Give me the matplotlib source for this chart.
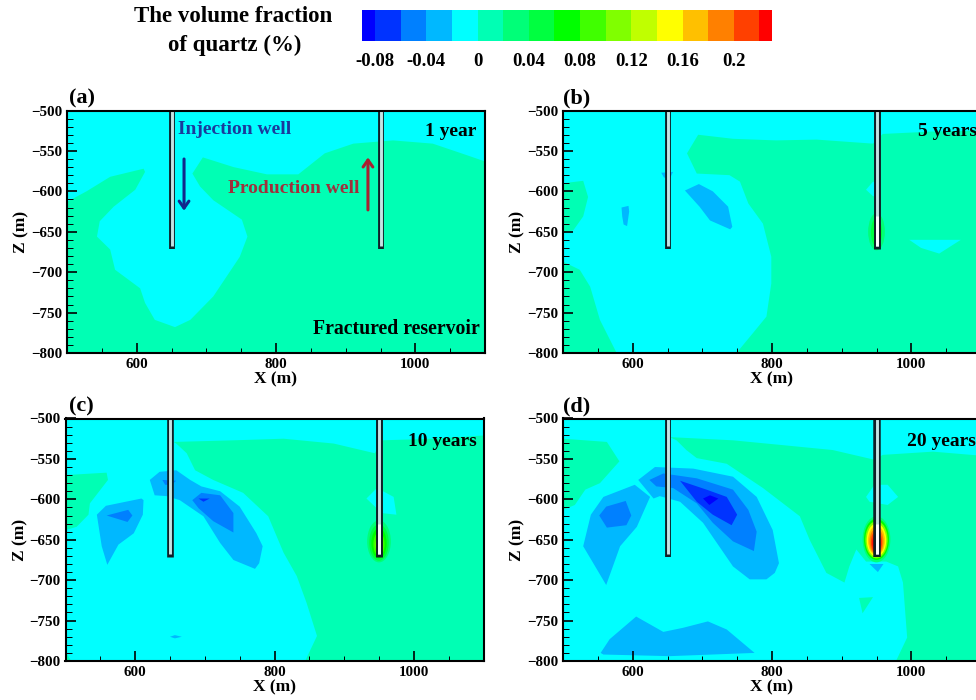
import matplotlib
matplotlib.use("Agg")
import matplotlib.pyplot as plt
import numpy as np
from matplotlib.colors import BoundaryNorm, ListedColormap
from matplotlib.patches import Ellipse, FancyArrowPatch
from matplotlib.ticker import MultipleLocator

plt.rcParams["font.family"] = ["Liberation Serif", "DejaVu Serif"]
plt.rcParams["font.weight"] = "bold"
plt.rcParams["axes.labelweight"] = "bold"

# Colour scale
BOUNDS = [-0.09, -0.08, -0.06, -0.04, -0.02, 0, 0.02, 0.04, 0.06, 0.08, 0.10,
          0.12, 0.14, 0.16, 0.18, 0.20, 0.22, 0.23]
COLORS = ["#0000ff", "#0033ff", "#0080ff", "#00b8ff", "#00ffff", "#00ffb4",
          "#00ff78", "#00ff40", "#00ff00", "#40ff00", "#80ff00", "#c0ff00",
          "#ffff00", "#ffc000", "#ff8000", "#ff4000", "#ff0000"]
CBAR_TICKS = [-0.08, -0.04, 0, 0.04, 0.08, 0.12, 0.16, 0.2]
CBAR_LABELS = ["-0.08", "-0.04", "0", "0.04", "0.08", "0.12", "0.16", "0.2"]

# Background of each panel, then contour bands as (value, outline) in X, Z metres
BACKGROUND = -0.01

BANDS_A = [
    (0.01, [(500, -613), (528, -600), (562, -582), (610, -572), (612, -576), (598, -598),
            (567, -619), (547, -637), (543, -656), (562, -672), (569, -697), (605, -720),
            (612, -738), (626, -759), (655, -768), (677, -759), (710, -730), (748, -681),
            (759, -656), (751, -635), (710, -611), (691, -594), (680, -578), (695, -558),
            (739, -570), (787, -579), (832, -579), (870, -553), (911, -541), (968, -537),
            (1025, -541), (1073, -555), (1100, -563), (1100, -800), (500, -800)]),
]

BANDS_B = [
    (0.01, [(500, -590), (529, -587), (536, -607), (529, -631), (515, -648), (500, -652)]),
    (0.01, [(500, -687), (524, -697), (539, -718), (553, -759), (577, -800), (500, -800)]),
    (0.01, [(694, -530), (744, -535), (806, -537), (864, -536), (945, -541), (959, -529),
            (1031, -526), (1100, -525), (1100, -800), (749, -800), (773, -775), (792, -755),
            (799, -714), (799, -681), (787, -640), (766, -615), (754, -588), (739, -580),
            (692, -578), (678, -553)]),
    (-0.01, [(935, -598), (945, -588), (956, -590), (956, -606), (945, -606)]),
    (-0.01, [(997, -660), (1071, -660), (1040, -677), (1014, -670)]),
    (-0.03, [(675, -599), (695, -591), (715, -600), (737, -619), (743, -644), (740, -647),
             (711, -636), (696, -619)]),
    (-0.03, [(584, -620), (594, -618), (595, -625), (592, -643), (587, -641), (585, -631)]),
    (-0.03, [(641, -577), (658, -576), (654, -583), (645, -583)]),
]

BANDS_C = [
    (0.01, [(500, -570), (559, -567), (561, -576), (535, -605), (533, -619), (516, -634),
            (500, -638)]),
    (0.01, [(500, -788), (508, -800), (500, -800)]),
    (0.01, [(655, -529), (741, -527), (813, -525), (885, -531), (944, -543), (954, -527),
            (1028, -525), (1100, -521), (1100, -800), (844, -800), (861, -769), (846, -728),
            (832, -695), (813, -666), (791, -621), (755, -592), (712, -576), (686, -564),
            (674, -543), (659, -531)]),
    (-0.01, [(932, -599), (947, -586), (971, -597), (975, -619), (954, -617)]),
    (-0.03, [(545, -619), (558, -608), (609, -599), (612, -601), (611, -619), (598, -642),
             (576, -656), (560, -681), (552, -658)]),
    (-0.05, [(559, -620), (590, -613), (596, -620), (589, -628)]),
    (-0.03, [(621, -576), (635, -566), (659, -564), (679, -576), (695, -584), (722, -590),
             (750, -609), (774, -642), (783, -658), (778, -679), (772, -686), (741, -675),
             (722, -654), (698, -621), (664, -601), (645, -596), (628, -595)]),
    (-0.05, [(682, -601), (695, -592), (722, -595), (741, -617), (741, -641), (712, -627),
             (691, -611)]),
    (-0.07, [(691, -599), (707, -599), (698, -603)]),
    (-0.05, [(639, -576), (659, -577), (652, -582), (643, -582)]),
    (-0.03, [(650, -770), (657, -768), (667, -770), (657, -772)]),
]

BANDS_D = [
    (0.01, [(500, -525), (563, -529), (581, -553), (553, -580), (532, -588), (517, -607),
            (500, -613)]),
    (0.01, [(653, -523), (744, -527), (816, -533), (887, -539), (947, -551), (959, -545),
            (1031, -541), (1100, -546), (1100, -800), (978, -800), (994, -771), (988, -703),
            (981, -683), (964, -677), (935, -677), (921, -662), (911, -683), (904, -703),
            (878, -691), (854, -650), (840, -621), (787, -586), (735, -556), (692, -549),
            (677, -539), (663, -527)]),
    (0.01, [(925, -722), (945, -721), (930, -741)]),
    (-0.01, [(935, -597), (947, -582), (966, -582), (981, -597), (966, -607), (940, -603)]),
    (-0.03, [(529, -658), (540, -619), (558, -597), (603, -582), (625, -597), (606, -634),
             (582, -658), (562, -706)]),
    (-0.05, [(552, -620), (562, -609), (590, -602), (598, -620), (591, -632), (563, -635)]),
    (-0.03, [(608, -576), (632, -560), (687, -562), (744, -572), (778, -597), (801, -638),
             (810, -679), (804, -691), (792, -699), (768, -699), (744, -683), (701, -629),
             (668, -603), (639, -596), (630, -599)]),
    (-0.05, [(624, -576), (644, -568), (692, -574), (744, -588), (766, -613), (778, -640),
             (774, -664), (744, -652), (715, -629), (692, -605), (658, -586), (634, -584)]),
    (-0.07, [(668, -577), (706, -588), (735, -597), (750, -619), (742, -632), (715, -619),
             (692, -603)]),
    (-0.085, [(701, -599), (711, -595), (723, -599), (710, -607)]),
    (-0.03, [(940, -680), (960, -680), (952, -690)]),
    (-0.03, [(554, -790), (567, -773), (605, -745), (644, -764), (672, -759), (708, -751),
             (735, -761), (775, -790), (653, -794), (558, -792)]),
]

# Hot spot round the production well: value, half width, top and bottom Z
GLOW_B = [(0.03, 12, -627, -673), (0.05, 8, -633, -668)]
GLOW_C = [(0.03, 17, -626, -678), (0.05, 14, -631, -676), (0.07, 11, -636, -673),
          (0.09, 8, -641, -670), (0.11, 5, -646, -667)]
GLOW_D = [(0.03, 20, -621, -678), (0.07, 18, -624, -675), (0.11, 16, -627, -673),
          (0.15, 14, -630, -671), (0.17, 12, -633, -669), (0.19, 10, -636, -668),
          (0.21, 8, -639, -667), (0.225, 6, -642, -666)]

WELL_X = [650, 950]
WELL_BOTTOM = -671
WELL_LOWER_TOP = -630

TITLES = ["(a)", "(b)", "(c)", "(d)"]
TITLE_X = [0.005, 0.0, 0.009, 0.0]
ALL_BANDS = [BANDS_A, BANDS_B, BANDS_C, BANDS_D]
ALL_GLOWS = [[], GLOW_B, GLOW_C, GLOW_D]
# line widths of the two wells per panel
WELL_LW = [(4.2, 4.2), (4.2, 5.0), (4.8, 5.0), (4.2, 5.4)]
TIME_LABELS = ["1 year", "5 years", "10 years", "20 years"]
TIME_X = [1088, 1094, 1091, 1092]
TIME_Z = [-526, -526, -529, -529]

W, H = 976, 700
cmap = ListedColormap(COLORS)
norm = BoundaryNorm(BOUNDS, cmap.N)

fig = plt.figure(figsize=(W / 100, H / 100), dpi=100)


def px_axes(left, top, right, bottom):
    return fig.add_axes([left / W, 1 - bottom / H, (right - left) / W, (bottom - top) / H])


# panels, in pixel boxes; (b) and (d) run off the right edge of the image
boxes = [(67, 110.5, 485, 353), (563, 110.5, 981, 353),
         (65.5, 418.5, 483.5, 661), (563, 418.5, 981, 661)]

for i, box in enumerate(boxes):
    ax = px_axes(*box)
    ax.set_facecolor(cmap(norm(BACKGROUND)))
    for value, outline in ALL_BANDS[i]:
        xs, zs = zip(*outline)
        ax.fill(xs, zs, color=cmap(norm(value)), lw=0)
    for value, half, top, bottom in ALL_GLOWS[i]:
        ax.add_patch(Ellipse((950, (top + bottom) / 2), 2 * half, top - bottom,
                             color=cmap(norm(value)), lw=0))

    # wells
    for x, lw in zip(WELL_X, WELL_LW[i]):
        ax.plot([x, x], [-490, WELL_BOTTOM], color="#102028", lw=lw, solid_capstyle="butt")
        ax.plot([x, x], [-490, WELL_BOTTOM + 3], color="#c4e4e4", lw=2.1, solid_capstyle="butt")
        if x == 950 and i > 0:
            ax.plot([x, x], [WELL_LOWER_TOP, WELL_BOTTOM + 3], color="white", lw=2.1,
                    solid_capstyle="butt")

    ax.set_xlim(500, 1100)
    ax.set_ylim(-800, -500)
    ax.xaxis.set_major_locator(MultipleLocator(200))
    ax.xaxis.set_minor_locator(MultipleLocator(50))
    ax.yaxis.set_major_locator(MultipleLocator(50))
    ax.yaxis.set_minor_locator(MultipleLocator(10))
    ax.tick_params(which="major", direction="in", length=7, width=1.2, labelsize=10.8, pad=3.5)
    ax.tick_params(which="minor", direction="in", length=3.8, width=0.7)
    ax.tick_params(axis="y", which="minor", length=4.3)
    for spine in ax.spines.values():
        spine.set_linewidth(1.5)
    ax.set_xlabel("X (m)", fontsize=12.5, labelpad=0.5)
    ax.set_ylabel("Z (m)", fontsize=12.5, labelpad=1)
    ax.text(TITLE_X[i], 1.01, TITLES[i], transform=ax.transAxes, fontsize=16, va="bottom", ha="left")
    ax.text(TIME_X[i], TIME_Z[i], TIME_LABELS[i], fontsize=14, ha="right", va="center")

    if i == 0:
        ax.text(660, -523, "Injection well", fontsize=14, color="#1a3a9c", ha="left", va="center")
        ax.text(920, -597, "Production well", fontsize=14, color="#a0303c", ha="right", va="center")
        ax.text(1093, -770, "Fractured reservoir", fontsize=14.2, ha="right", va="center")
        ax.add_patch(FancyArrowPatch((668, -560), (668, -624), arrowstyle="->,head_width=3.5,head_length=5",
                                     color="#12288c", lw=2.2, shrinkA=0, shrinkB=0))
        ax.add_patch(FancyArrowPatch((932, -623), (932, -558), arrowstyle="->,head_width=3.5,head_length=5",
                                     color="#a82030", lw=2.2, shrinkA=0, shrinkB=0))

# colour bar
cax = px_axes(362.3, 10, 772.3, 41)
mids = (np.array(BOUNDS[:-1]) + np.array(BOUNDS[1:])) / 2
cax.pcolormesh(BOUNDS, [0, 1], mids[np.newaxis, :], cmap=cmap, norm=norm)
cax.set_yticks([])
cax.set_xticks(CBAR_TICKS, CBAR_LABELS, fontsize=13.5)
cax.tick_params(axis="x", length=0, pad=9)
for spine in cax.spines.values():
    spine.set_visible(False)

fig.text(233 / W, 1 - 17 / H, "The volume fraction", fontsize=16.5, ha="center", va="center")
fig.text(235 / W, 1 - 45 / H, "of quartz (%)", fontsize=16.5, ha="center", va="center")

fig.savefig("out.png", dpi=100)
